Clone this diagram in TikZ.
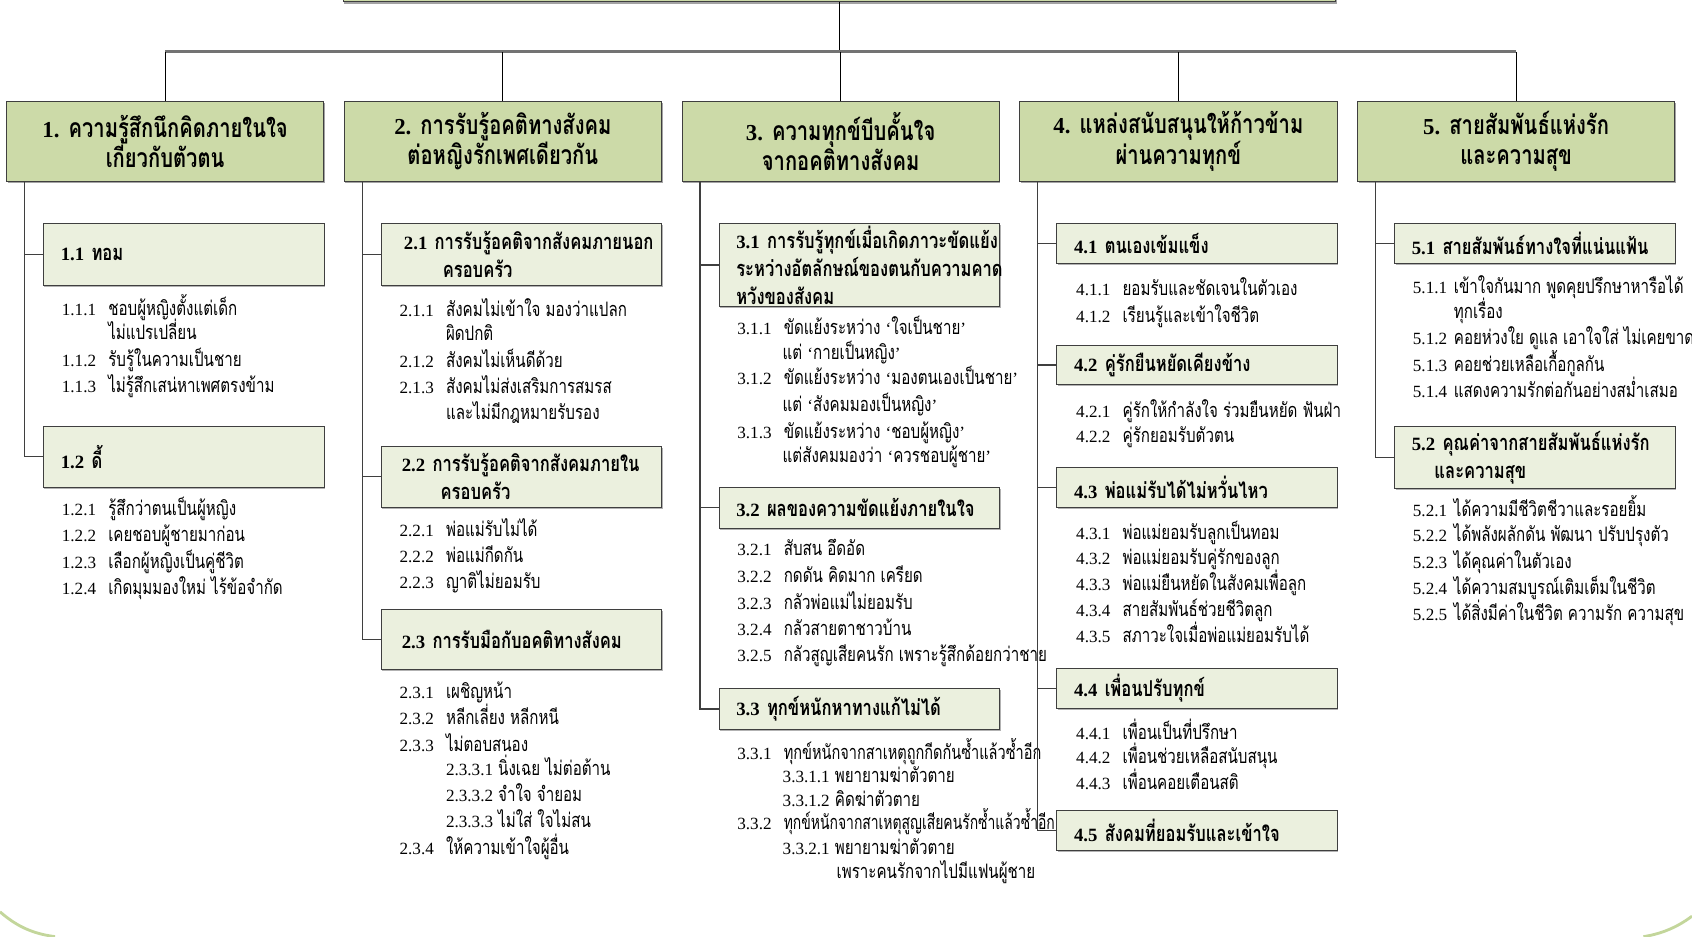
\documentclass[tikz,border=0pt]{standalone}
\usepackage{fontspec}
\setmainfont{Liberation Serif}
\newfontfamily\thaifont[Script=Thai,FakeStretch=0.76]{Loma}
\newfontfamily\numf[Scale=0.86]{Liberation Serif}
\usetikzlibrary{shadows}

\definecolor{headgreen}{HTML}{CCDAA8}
\definecolor{subgreen}{HTML}{EBF0DE}
\definecolor{edge}{HTML}{3F3F3F}
\definecolor{arcgreen}{HTML}{C3D69B}

\newcommand\nb[2][0.86cm]{\makebox[#1][l]{\numf #2}}
\newcommand\q[1]{{\numf ‘}#1{\numf ’}}
\newcommand\tightlines{\lineskiplimit-20pt\relax}

\tikzset{
  headbox/.style={draw=edge, fill=headgreen, minimum width=5.88cm, minimum height=1.48cm,
    align=center, inner sep=2pt,
    font=\thaifont\bfseries\fontsize{14}{15.9}\selectfont\tightlines,
    drop shadow={shadow xshift=0.6pt, shadow yshift=-1pt, opacity=0.6, fill=black!60}},
  subbox/.style={draw=edge, fill=subgreen, anchor=north west, text width=4.56cm,
    inner xsep=0.32cm, inner ysep=1pt, align=left,
    font=\thaifont\bfseries\fontsize{11.5}{14.8}\selectfont\tightlines,
    drop shadow={shadow xshift=0.5pt, shadow yshift=-0.8pt, opacity=0.5, fill=black!60}},
  item/.style={anchor=base west, inner sep=0pt, font=\thaifont\fontsize{10.5}{12}\selectfont},
  link/.style={draw=edge, line width=0.7pt},
  drop/.style={black, line width=0.5pt},
  busline/.style={black!55, line width=1.4pt},
}

\begin{document}
\begin{tikzpicture}[x=0.02cm, y=-0.02cm]
  \useasboundingbox (0,0) rectangle (1568,868);

  % Define main boxes
  \node[headbox, minimum width=18.4cm, minimum height=1.3cm] (root) at (778,-31) {};
  \node[headbox] (c1) at (153,131) {{\numf 1.} ความรู้สึกนึกคิดภายในใจ\\เกี่ยวกับตัวตน};
  \node[headbox] (c2) at (466,131) {{\numf 2.} การรับรู้อคติทางสังคม\\ต่อหญิงรักเพศเดียวกัน};
  \node[headbox] (c3) at (779,131) {{\numf 3.} ความทุกข์บีบคั้นใจ\\จากอคติทางสังคม};
  \node[headbox] (c4) at (1092,131) {{\numf 4.} แหล่งสนับสนุนให้ก้าวข้าม\\ผ่านความทุกข์};
  \node[headbox] (c5) at (1405,131) {{\numf 5.} สายสัมพันธ์แห่งรัก\\และความสุข};

  % Draw the bus
  \coordinate (bus) at (778,48);
  \draw[drop] (root) -- (bus);
  \draw[busline] (c1.north |- bus) -- (c5.north |- bus);
  \draw[drop] (c1.north) -- (c1.north |- bus);
  \draw[drop] (c2.north) -- (c2.north |- bus);
  \draw[drop] (c3.north) -- (c3.north |- bus);
  \draw[drop] (c4.north) -- (c4.north |- bus);
  \draw[drop] (c5.north) -- (c5.north |- bus);

  % Column 1
  \node[subbox, minimum height=1.14cm] (s11) at (40,207) {{\numf 1.1}~ทอม};
  \node[subbox, minimum height=1.12cm] (s12) at (40,395) {{\numf 1.2}~ดี้};
  \draw[link] ([xshift=0.34cm]c1.south west) |- (s11);
  \draw[link] ([xshift=0.34cm]c1.south west) |- (s12);
  \node[item] (i111) at (57,292) {\nb{1.1.1}ชอบผู้หญิงตั้งแต่เด็ก};
  \node[item] (i111b) at (100,315) {ไม่แปรเปลี่ยน};
  \node[item] (i112) at (57,340) {\nb{1.1.2}รับรู้ในความเป็นชาย};
  \node[item] (i113) at (57,364) {\nb{1.1.3}ไม่รู้สึกเสน่หาเพศตรงข้าม};
  \node[item] (i121) at (57,478) {\nb{1.2.1}รู้สึกว่าตนเป็นผู้หญิง};
  \node[item] (i122) at (57,502) {\nb{1.2.2}เคยชอบผู้ชายมาก่อน};
  \node[item] (i123) at (57,527) {\nb{1.2.3}เลือกผู้หญิงเป็นคู่ชีวิต};
  \node[item] (i124) at (57,551) {\nb{1.2.4}เกิดมุมมองใหม่ ไร้ข้อจำกัด};

  % Column 2
  \node[subbox, minimum height=1.14cm] (s21) at (353,207)
    {\hspace*{0.1cm}{\numf 2.1}~การรับรู้อคติจากสังคมภายนอก\\\hspace*{0.82cm}ครอบครัว};
  \node[subbox, minimum height=1.14cm] (s22) at (353,413)
    {\hspace*{0.06cm}{\numf 2.2}~การรับรู้อคติจากสังคมภายใน\\\hspace*{0.78cm}ครอบครัว};
  \node[subbox, minimum height=1.12cm] (s23) at (353,564)
    {\hspace*{0.06cm}{\numf 2.3}~การรับมือกับอคติทางสังคม};
  \draw[link] ([xshift=0.34cm]c2.south west) |- (s21);
  \draw[link] ([xshift=0.34cm]c2.south west) |- (s22);
  \draw[link] ([xshift=0.34cm]c2.south west) |- (s23);
  \node[item] (i211) at (370,293) {\nb{2.1.1}สังคมไม่เข้าใจ มองว่าแปลก};
  \node[item] (i211b) at (413,316) {ผิดปกติ};
  \node[item] (i212) at (370,341) {\nb{2.1.2}สังคมไม่เห็นดีด้วย};
  \node[item] (i213) at (370,365) {\nb{2.1.3}สังคมไม่ส่งเสริมการสมรส};
  \node[item] (i213b) at (413,389) {และไม่มีกฎหมายรับรอง};
  \node[item] (i221) at (370,497) {\nb{2.2.1}พ่อแม่รับไม่ได้};
  \node[item] (i222) at (370,521) {\nb{2.2.2}พ่อแม่กีดกัน};
  \node[item] (i223) at (370,545) {\nb{2.2.3}ญาติไม่ยอมรับ};
  \node[item] (i231) at (370,647) {\nb{2.3.1}เผชิญหน้า};
  \node[item] (i232) at (370,671) {\nb{2.3.2}หลีกเลี่ยง หลีกหนี};
  \node[item] (i233) at (370,696) {\nb{2.3.3}ไม่ตอบสนอง};
  \node[item] (i2331) at (413,719) {{\numf 2.3.3.1} นิ่งเฉย ไม่ต่อต้าน};
  \node[item] (i2332) at (413,743) {{\numf 2.3.3.2} จำใจ จำยอม};
  \node[item] (i2333) at (413,767) {{\numf 2.3.3.3} ไม่ใส่ ใจไม่สน};
  \node[item] (i234) at (370,792) {\nb{2.3.4}ให้ความเข้าใจผู้อื่น};

  % Column 3
  \node[subbox, minimum height=1.53cm] (s31) at (666,207)
    {{\numf 3.1}~การรับรู้ทุกข์เมื่อเกิดภาวะขัดแย้ง\\ระหว่างอัตลักษณ์ของตนกับความคาด\\หวังของสังคม};
  \node[subbox, minimum height=0.76cm] (s32) at (666,451) {{\numf 3.2}~ผลของความขัดแย้งภายในใจ};
  \node[subbox, minimum height=0.75cm] (s33) at (666,638) {{\numf 3.3}~ทุกข์หนักหาทางแก้ไม่ได้};
  \draw[link] ([xshift=0.34cm]c3.south west) |- (s31);
  \draw[link] ([xshift=0.34cm]c3.south west) |- (s32);
  \draw[link] ([xshift=0.34cm]c3.south west) |- (s33);
  \node[item] (i311) at (683,310) {\nb{3.1.1}ขัดแย้งระหว่าง \q{ใจเป็นชาย}};
  \node[item] (i311b) at (725,333) {แต่ \q{กายเป็นหญิง}};
  \node[item] (i312) at (683,356) {\nb{3.1.2}ขัดแย้งระหว่าง \q{มองตนเองเป็นชาย}};
  \node[item] (i312b) at (725,381) {แต่ \q{สังคมมองเป็นหญิง}};
  \node[item] (i313) at (683,406) {\nb{3.1.3}ขัดแย้งระหว่าง \q{ชอบผู้หญิง}};
  \node[item] (i313b) at (725,429) {แต่สังคมมองว่า \q{ควรชอบผู้ชาย}};
  \node[item] (i321) at (683,515) {\nb{3.2.1}สับสน อึดอัด};
  \node[item] (i322) at (683,540) {\nb{3.2.2}กดดัน คิดมาก เครียด};
  \node[item] (i323) at (683,565) {\nb{3.2.3}กลัวพ่อแม่ไม่ยอมรับ};
  \node[item] (i324) at (683,589) {\nb{3.2.4}กลัวสายตาชาวบ้าน};
  \node[item] (i325) at (683,613) {\nb{3.2.5}กลัวสูญเสียคนรัก เพราะรู้สึกด้อยกว่าชาย};
  \node[item] (i331) at (683,704) {\nb{3.3.1}\scalebox{0.96}[1]{ทุกข์หนักจากสาเหตุถูกกีดกันซ้ำแล้วซ้ำอีก}};
  \node[item] (i3311) at (725,725) {{\numf 3.3.1.1} พยายามฆ่าตัวตาย};
  \node[item] (i3312) at (725,747) {{\numf 3.3.1.2} คิดฆ่าตัวตาย};
  \node[item] (i332) at (683,769) {\nb{3.3.2}\scalebox{0.92}[1]{ทุกข์หนักจากสาเหตุสูญเสียคนรักซ้ำแล้วซ้ำอีก}};
  \node[item] (i3321) at (725,792) {{\numf 3.3.2.1} พยายามฆ่าตัวตาย};
  \node[item] (i3321b) at (775,814) {เพราะคนรักจากไปมีแฟนผู้ชาย};

  % Column 4
  \node[subbox, minimum height=0.74cm] (s41) at (979,207) {{\numf 4.1}~ตนเองเข้มแข็ง};
  \node[subbox, minimum height=0.72cm] (s42) at (979,320) {{\numf 4.2}~คู่รักยืนหยัดเคียงข้าง};
  \node[subbox, minimum height=0.74cm] (s43) at (979,433) {{\numf 4.3}~พ่อแม่รับได้ไม่หวั่นไหว};
  \node[subbox, minimum height=0.74cm] (s44) at (979,619) {{\numf 4.4}~เพื่อนปรับทุกข์};
  \node[subbox, minimum height=0.74cm] (s45) at (979,751) {{\numf 4.5}~สังคมที่ยอมรับและเข้าใจ};
  \draw[link] ([xshift=0.34cm]c4.south west) |- (s41);
  \draw[link] ([xshift=0.34cm]c4.south west) |- (s42);
  \draw[link] ([xshift=0.34cm]c4.south west) |- (s43);
  \draw[link] ([xshift=0.34cm]c4.south west) |- (s44);
  \draw[link] ([xshift=0.34cm]c4.south west) |- (s45);
  \node[item] (i411) at (997,274) {\nb{4.1.1}ยอมรับและชัดเจนในตัวเอง};
  \node[item] (i412) at (997,299) {\nb{4.1.2}เรียนรู้และเข้าใจชีวิต};
  \node[item] (i421) at (997,387) {\nb{4.2.1}คู่รักให้กำลังใจ ร่วมยืนหยัด ฟันฝ่า};
  \node[item] (i422) at (997,410) {\nb{4.2.2}คู่รักยอมรับตัวตน};
  \node[item] (i431) at (997,500) {\nb{4.3.1}พ่อแม่ยอมรับลูกเป็นทอม};
  \node[item] (i432) at (997,523) {\nb{4.3.2}พ่อแม่ยอมรับคู่รักของลูก};
  \node[item] (i433) at (997,547) {\nb{4.3.3}พ่อแม่ยืนหยัดในสังคมเพื่อลูก};
  \node[item] (i434) at (997,571) {\nb{4.3.4}สายสัมพันธ์ช่วยชีวิตลูก};
  \node[item] (i435) at (997,595) {\nb{4.3.5}สภาวะใจเมื่อพ่อแม่ยอมรับได้};
  \node[item] (i441) at (997,685) {\nb{4.4.1}เพื่อนเป็นที่ปรึกษา};
  \node[item] (i442) at (997,708) {\nb{4.4.2}เพื่อนช่วยเหลือสนับสนุน};
  \node[item] (i443) at (997,732) {\nb{4.4.3}เพื่อนคอยเตือนสติ};

  % Column 5
  \node[subbox, minimum height=0.74cm] (s51) at (1292,207) {{\numf 5.1}~สายสัมพันธ์ทางใจที่แน่นแฟ้น};
  \node[subbox, minimum height=1.14cm] (s52) at (1292,395)
    {{\numf 5.2}~คุณค่าจากสายสัมพันธ์แห่งรัก\\\hspace*{0.42cm}และความสุข};
  \draw[link] ([xshift=0.34cm]c5.south west) |- (s51);
  \draw[link] ([xshift=0.34cm]c5.south west) |- (s52);
  \node[item] (i511) at (1309,272) {\nb[0.76cm]{5.1.1}เข้าใจกันมาก พูดคุยปรึกษาหารือได้};
  \node[item] (i511b) at (1347,295) {ทุกเรื่อง};
  \node[item] (i512) at (1309,319) {\nb[0.76cm]{5.1.2}คอยห่วงใย ดูแล เอาใจใส่ ไม่เคยขาด};
  \node[item] (i513) at (1309,344) {\nb[0.76cm]{5.1.3}คอยช่วยเหลือเกื้อกูลกัน};
  \node[item] (i514) at (1309,368) {\nb[0.76cm]{5.1.4}แสดงความรักต่อกันอย่างสม่ำเสมอ};
  \node[item] (i521) at (1309,479) {\nb[0.76cm]{5.2.1}ได้ความมีชีวิตชีวาและรอยยิ้ม};
  \node[item] (i522) at (1309,502) {\nb[0.76cm]{5.2.2}ได้พลังผลักดัน พัฒนา ปรับปรุงตัว};
  \node[item] (i523) at (1309,527) {\nb[0.76cm]{5.2.3}ได้คุณค่าในตัวเอง};
  \node[item] (i524) at (1309,551) {\nb[0.76cm]{5.2.4}ได้ความสมบูรณ์เติมเต็มในชีวิต};
  \node[item] (i525) at (1309,575) {\nb[0.76cm]{5.2.5}ได้สิ่งมีค่าในชีวิต ความรัก ความสุข};

  % Slide frame at the bottom
  \draw[arcgreen, line width=1.5pt] (0,845) .. controls (14,857) and (28,865) .. (51,868);
  \draw[arcgreen, line width=1.5pt] (1523,868) .. controls (1542,865) and (1556,858) .. (1568,849);
\end{tikzpicture}
\end{document}
